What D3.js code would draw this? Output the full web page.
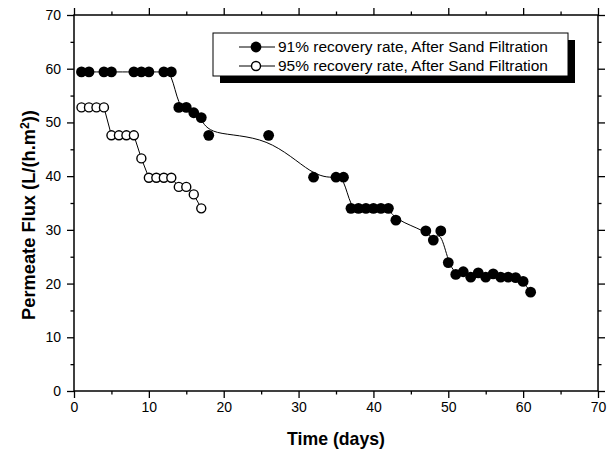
<!DOCTYPE html>
<html>
<head>
<meta charset="utf-8">
<script src="https://cdn.jsdelivr.net/npm/d3@7"></script>
<style>
  html, body { margin: 0; padding: 0; background: #fff; }
  svg { display: block; font-family: "Liberation Sans", Arial, sans-serif; }
</style>
</head>
<body>
<svg id="chart" width="608" height="452"></svg>
<script>
// ---- data ----
const daysA = [1,2,4,5,8,9,10,12,13,14,15,16,17,18,26,32,35,36,37,38,39,40,41,42,43,47,48,49,50,51,52,53,54,55,56,57,58,59,60,61];
const fluxA = [59.4,59.4,59.4,59.4,59.4,59.4,59.4,59.4,59.4,52.8,52.8,51.8,50.9,47.6,47.6,39.8,39.8,39.8,34.0,34.0,34.0,34.0,34.0,34.0,31.8,29.8,28.1,29.8,23.9,21.7,22.2,21.2,22.0,21.2,21.8,21.2,21.2,21.1,20.4,18.4];
const daysB = [1,2,3,4,5,6,7,8,9,10,11,12,13,14,15,16,17];
const fluxB = [52.8,52.8,52.8,52.8,47.6,47.6,47.6,47.6,43.3,39.7,39.7,39.7,39.7,38.0,38.0,36.6,34.0];
const seriesNames = ["91% recovery rate, After Sand Filtration", "95% recovery rate, After Sand Filtration"];
const xMajor = [0,10,20,30,40,50,60,70];
const xMinor = [5,15,25,35,45,55,65];
const yMajor = [0,10,20,30,40,50,60,70];
const yMinor = [5,15,25,35,45,55,65];
const xTitle = "Time (days)";

// ---- layout ----
const svg = d3.select("#chart");
const L = 74, R = 598, T = 15, B = 391;
const x = d3.scaleLinear().domain([0, 70]).range([L, R]);
const y = d3.scaleLinear().domain([0, 70]).range([B, T]);

const tickFont = "14px";
const rFilled = 5.4, rOpen = 4.5;

function styleAxis(g) {
  g.select(".domain").remove();
  g.selectAll("line").attr("stroke", "#000").attr("stroke-width", 1.3);
  g.selectAll("text").attr("fill", "#000").style("font-size", tickFont).style("font-family", "'Liberation Sans', Arial, sans-serif");
}

// bottom
svg.append("g").attr("transform", `translate(0,${B})`)
  .call(d3.axisBottom(x).tickValues(xMajor).tickSize(7).tickPadding(4).tickFormat(d3.format("d")))
  .call(styleAxis);
svg.append("g").attr("transform", `translate(0,${B})`)
  .call(d3.axisBottom(x).tickValues(xMinor).tickSize(3.5).tickFormat(""))
  .call(styleAxis);
// top
svg.append("g").attr("transform", `translate(0,${T})`)
  .call(d3.axisTop(x).tickValues(xMajor).tickSize(7).tickFormat(""))
  .call(styleAxis);
svg.append("g").attr("transform", `translate(0,${T})`)
  .call(d3.axisTop(x).tickValues(xMinor).tickSize(3.5).tickFormat(""))
  .call(styleAxis);
// left
svg.append("g").attr("transform", `translate(${L},0)`)
  .call(d3.axisLeft(y).tickValues(yMajor).tickSize(7).tickPadding(6).tickFormat(d3.format("d")))
  .call(styleAxis);
svg.append("g").attr("transform", `translate(${L},0)`)
  .call(d3.axisLeft(y).tickValues(yMinor).tickSize(3.5).tickFormat(""))
  .call(styleAxis);
// right
svg.append("g").attr("transform", `translate(${R},0)`)
  .call(d3.axisRight(y).tickValues(yMajor).tickSize(7).tickFormat(""))
  .call(styleAxis);
svg.append("g").attr("transform", `translate(${R},0)`)
  .call(d3.axisRight(y).tickValues(yMinor).tickSize(3.5).tickFormat(""))
  .call(styleAxis);

// frame
svg.append("rect").attr("x", L).attr("y", T).attr("width", R - L).attr("height", B - T)
  .attr("fill", "none").attr("stroke", "#000").attr("stroke-width", 1.5);

// axis titles
const xt = svg.append("text").attr("x", (L + R) / 2).attr("y", 445).attr("text-anchor", "middle")
  .style("font-size", "17px").style("font-weight", "bold").text(xTitle);
{
  const w = xt.node().getComputedTextLength();
  xt.style("font-size", (17 * 98 / w).toFixed(2) + "px");
}

const yt = svg.append("text").attr("transform", "translate(35,215) rotate(-90)")
  .attr("text-anchor", "middle").style("font-weight", "bold").style("font-size", "15px");
yt.append("tspan").text("Permeate Flux (L/(h.m");
yt.append("tspan").attr("dy", -6).style("font-size", "10px").text("2");
yt.append("tspan").attr("dy", 6).text("))");
{
  const w = yt.node().getComputedTextLength();
  const s = 210 / w;
  yt.style("font-size", (15 * s).toFixed(2) + "px");
  yt.select("tspan:nth-child(2)").style("font-size", (10 * s).toFixed(2) + "px");
}

// ---- series ----
const dataA = daysA.map((d, i) => [d, fluxA[i]]);
const dataB = daysB.map((d, i) => [d, fluxB[i]]);

const lineA = d3.line().x(d => x(d[0])).y(d => y(d[1])).curve(d3.curveBasis);
const lineB = d3.line().x(d => x(d[0])).y(d => y(d[1]));

svg.append("path").attr("d", lineA(dataA)).attr("fill", "none").attr("stroke", "#000").attr("stroke-width", 1);
svg.append("path").attr("d", lineB(dataB)).attr("fill", "none").attr("stroke", "#000").attr("stroke-width", 1);

svg.append("g").selectAll("circle").data(dataA).join("circle")
  .attr("cx", d => x(d[0])).attr("cy", d => y(d[1])).attr("r", rFilled).attr("fill", "#000");
svg.append("g").selectAll("circle").data(dataB).join("circle")
  .attr("cx", d => x(d[0])).attr("cy", d => y(d[1])).attr("r", rOpen)
  .attr("fill", "#fff").attr("stroke", "#000").attr("stroke-width", 1.4);

// ---- legend ----
const lg = svg.append("g");
const lx = 213, ly = 33, lw = 355, lh = 43;
lg.append("rect").attr("x", lx + 7).attr("y", ly + 7).attr("width", lw).attr("height", lh).attr("fill", "#000");
lg.append("rect").attr("x", lx).attr("y", ly).attr("width", lw).attr("height", lh)
  .attr("fill", "#fff").attr("stroke", "#000").attr("stroke-width", 1);
const rows = [47, 66];
rows.forEach((ry, i) => {
  lg.append("line").attr("x1", 239).attr("x2", 275).attr("y1", ry).attr("y2", ry)
    .attr("stroke", "#000").attr("stroke-width", 1);
  if (i === 0) {
    lg.append("circle").attr("cx", 256).attr("cy", ry).attr("r", rFilled).attr("fill", "#000");
  } else {
    lg.append("circle").attr("cx", 256).attr("cy", ry).attr("r", rOpen)
      .attr("fill", "#fff").attr("stroke", "#000").attr("stroke-width", 1.4);
  }
  const t = lg.append("text").attr("x", 278).attr("y", ry + 4.5)
    .style("font-size", "13px").text(seriesNames[i]);
  const w = t.node().getComputedTextLength();
  t.style("font-size", (13 * 270 / w).toFixed(2) + "px");
});
</script>
</body>
</html>
